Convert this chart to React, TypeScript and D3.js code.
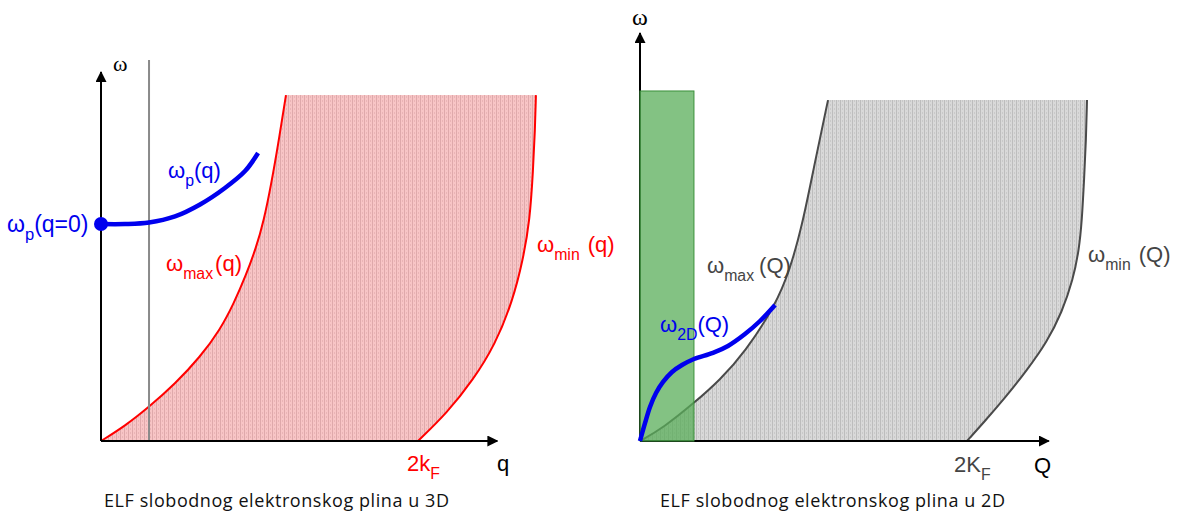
import React from 'react';
import * as d3 from 'd3';

// 3D panel: q in units of kF, omega in units of omega_p(q=0)
const maxCurve3D: [number, number][] = [
  [0, 0], [0.151, 0.069], [0.303, 0.157], [0.467, 0.263], [0.625, 0.387], [0.751, 0.512],
  [0.839, 0.636], [0.915, 0.765], [0.978, 0.889], [1.028, 1.018], [1.073, 1.18],
  [1.117, 1.364], [1.167, 1.594],
];
const minCurve3D: [number, number][] = [
  [2, 0], [2.183, 0.129], [2.347, 0.281], [2.486, 0.442], [2.599, 0.65], [2.662, 0.834],
  [2.706, 1.018], [2.726, 1.249], [2.738, 1.433], [2.744, 1.594],
];
const plasmon3D: [number, number][] = [
  [0, 1], [0.151, 1.0], [0.303, 1.007], [0.467, 1.035], [0.625, 1.09], [0.782, 1.166],
  [0.909, 1.244], [0.991, 1.327],
];
const cutQ3D = 0.303;
const cutTop3D = 1.756;
const axisQ3D = 2.5;
const axisW3D = 1.7;

// 2D panel
const maxCurve2D: [number, number][] = [
  [0, 0], [0.141, 0.06], [0.33, 0.175], [0.489, 0.281], [0.642, 0.41], [0.826, 0.622],
  [0.917, 0.788], [0.997, 1.009], [1.07, 1.286], [1.15, 1.571],
];
const minCurve2D: [number, number][] = [
  [2, 0], [2.11, 0.092], [2.232, 0.198], [2.367, 0.327], [2.489, 0.456], [2.581, 0.594],
  [2.648, 0.742], [2.685, 0.88], [2.703, 1.018], [2.716, 1.203], [2.728, 1.387], [2.734, 1.571],
];
const plasmon2D: [number, number][] = [
  [0, 0], [0.031, 0.083], [0.061, 0.157], [0.098, 0.221], [0.141, 0.272], [0.196, 0.318],
  [0.257, 0.35], [0.33, 0.378], [0.446, 0.406], [0.538, 0.438], [0.642, 0.493],
  [0.734, 0.553], [0.826, 0.627],
];
const greenBand = { q: 0.33, w: 1.613 };
const axisQ2D = 2.5;
const axisW2D = 1.88;

const captions = ['ELF slobodnog elektronskog plina u 3D', 'ELF slobodnog elektronskog plina u 2D'];

const xL = d3.scaleLinear().domain([0, 2]).range([101, 418]);
const yL = d3.scaleLinear().domain([0, 1]).range([441, 224]);
const xR = d3.scaleLinear().domain([0, 2]).range([640, 967]);
const yR = d3.scaleLinear().domain([0, 1]).range([441, 224]);

const sans = 'Liberation Sans, Arial, sans-serif';

function makeLine(x: any, y: any, curve: any = d3.curveBasis) {
  return d3.line<[number, number]>().x((d) => x(d[0])).y((d) => y(d[1])).curve(curve);
}

function region(x: any, y: any, left: [number, number][], right: [number, number][]) {
  const line = makeLine(x, y);
  const a = line(left) as string;
  const b = line(right.slice().reverse()) as string;
  return a + b.replace(/^M/, 'L') + 'Z';
}

function Label({ x, y, main, sub, rest, color, gap = 0, size = 22 }: any) {
  return (
    <text x={x} y={y} fill={color} fontFamily={sans} fontSize={size}>
      {main}
      <tspan fontSize={size * 0.72} dy={8}>{sub}</tspan>
      <tspan dy={-8} dx={gap}>{rest}</tspan>
    </text>
  );
}

export default function App() {
  const lineL = makeLine(xL, yL);
  const lineR = makeLine(xR, yR);
  const blueL = makeLine(xL, yL, d3.curveCatmullRom);
  const blueR = makeLine(xR, yR, d3.curveCatmullRom);

  return (
    <div style={{ position: 'fixed', left: 0, top: 0 }}>
      <svg width={1178} height={515} style={{ display: 'block', background: '#fff' }}>
        <defs>
          <pattern id="pinkTex" width={4} height={4} patternUnits="userSpaceOnUse">
            <rect width={4} height={4} fill="#f8c5c6" />
            <rect x={0} width={1} height={4} fill="#dfa9ab" />
            <rect x={2} y={0} width={1} height={2} fill="#eab4b6" />
          </pattern>
          <pattern id="grayTex" width={4} height={4} patternUnits="userSpaceOnUse">
            <rect width={4} height={4} fill="#d9d9d9" />
            <rect x={0} width={1} height={4} fill="#bdbdbd" />
            <rect x={2} y={0} width={1} height={2} fill="#c9c9c9" />
          </pattern>
          <marker id="arrow" viewBox="0 0 10 10" refX={9} refY={5} markerWidth={5.5} markerHeight={5.5} orient="auto">
            <path d="M0,0L10,5L0,10Z" fill="#000" />
          </marker>
        </defs>

        {/* ---- left: 3D ---- */}
        <path d={region(xL, yL, maxCurve3D, minCurve3D)} fill="url(#pinkTex)" />
        <path d={lineL(maxCurve3D) as string} fill="none" stroke="#ff0000" strokeWidth={2} />
        <path d={lineL(minCurve3D) as string} fill="none" stroke="#ff0000" strokeWidth={2} />
        <line x1={xL(cutQ3D)} x2={xL(cutQ3D)} y1={yL(0)} y2={yL(cutTop3D)} stroke="#8a8a8a" strokeWidth={2} />
        <line x1={xL(0)} x2={xL(axisQ3D)} y1={yL(0)} y2={yL(0)} stroke="#000" strokeWidth={2} markerEnd="url(#arrow)" />
        <line x1={xL(0)} x2={xL(0)} y1={yL(0)} y2={yL(axisW3D)} stroke="#000" strokeWidth={2} markerEnd="url(#arrow)" />
        <path d={blueL(plasmon3D) as string} fill="none" stroke="#0000ee" strokeWidth={4.5} />
        <circle cx={xL(plasmon3D[0][0])} cy={yL(plasmon3D[0][1])} r={7} fill="#0000ee" />

        <text x={113} y={71} fontFamily="Liberation Serif, Times New Roman, serif" fontSize={22} fill="#000">ω</text>
        <Label x={7} y={232} main="ω" sub="p" rest="(q=0)" color="#0000ee" size={23} />
        <Label x={168} y={178} main="ω" sub="p" rest="(q)" color="#0000ee" />
        <Label x={166} y={271} main="ω" sub="max" rest="(q)" color="#ff0000" gap={2} />
        <Label x={537} y={252} main="ω" sub="min" rest="(q)" color="#ff0000" gap={8} />
        <Label x={407} y={471} main="2k" sub="F" rest="" color="#ff0000" />
        <text x={497} y={471} fontFamily={sans} fontSize={22} fill="#000">q</text>

        {/* ---- right: 2D ---- */}
        <path d={region(xR, yR, maxCurve2D, minCurve2D)} fill="url(#grayTex)" />
        <path d={lineR(maxCurve2D) as string} fill="none" stroke="#4a4a4a" strokeWidth={2} />
        <path d={lineR(minCurve2D) as string} fill="none" stroke="#4a4a4a" strokeWidth={2} />
        <line x1={xR(0)} x2={xR(axisQ2D)} y1={yR(0)} y2={yR(0)} stroke="#000" strokeWidth={2} markerEnd="url(#arrow)" />
        <line x1={xR(0)} x2={xR(0)} y1={yR(0)} y2={yR(axisW2D)} stroke="#000" strokeWidth={2} markerEnd="url(#arrow)" />
        <rect
          x={xR(0)}
          y={yR(greenBand.w)}
          width={xR(greenBand.q) - xR(0)}
          height={yR(0) - yR(greenBand.w)}
          fill="#5aae5a"
          fillOpacity={0.75}
          stroke="#3a8f3a"
          strokeWidth={1}
        />
        <path d={blueR(plasmon2D) as string} fill="none" stroke="#0000ee" strokeWidth={4.5} />

        <text x={632} y={25} fontFamily="Liberation Serif, Times New Roman, serif" fontSize={24} fill="#000">ω</text>
        <Label x={707} y={273} main="ω" sub="max" rest="(Q)" color="#444" gap={5} />
        <Label x={660} y={332} main="ω" sub="2D" rest="(Q)" color="#0000ee" />
        <Label x={1088} y={262} main="ω" sub="min" rest="(Q)" color="#444" gap={8} />
        <Label x={954} y={472} main="2K" sub="F" rest="" color="#444" />
        <text x={1034} y={473} fontFamily={sans} fontSize={22} fill="#000">Q</text>

        <text x={104} y={507} fontFamily="Open Sans, sans-serif" fontSize={18} textLength={345} lengthAdjust="spacing" fill="#111">{captions[0]}</text>
        <text x={660} y={507} fontFamily="Open Sans, sans-serif" fontSize={18} textLength={345} lengthAdjust="spacing" fill="#111">{captions[1]}</text>
      </svg>
    </div>
  );
}
